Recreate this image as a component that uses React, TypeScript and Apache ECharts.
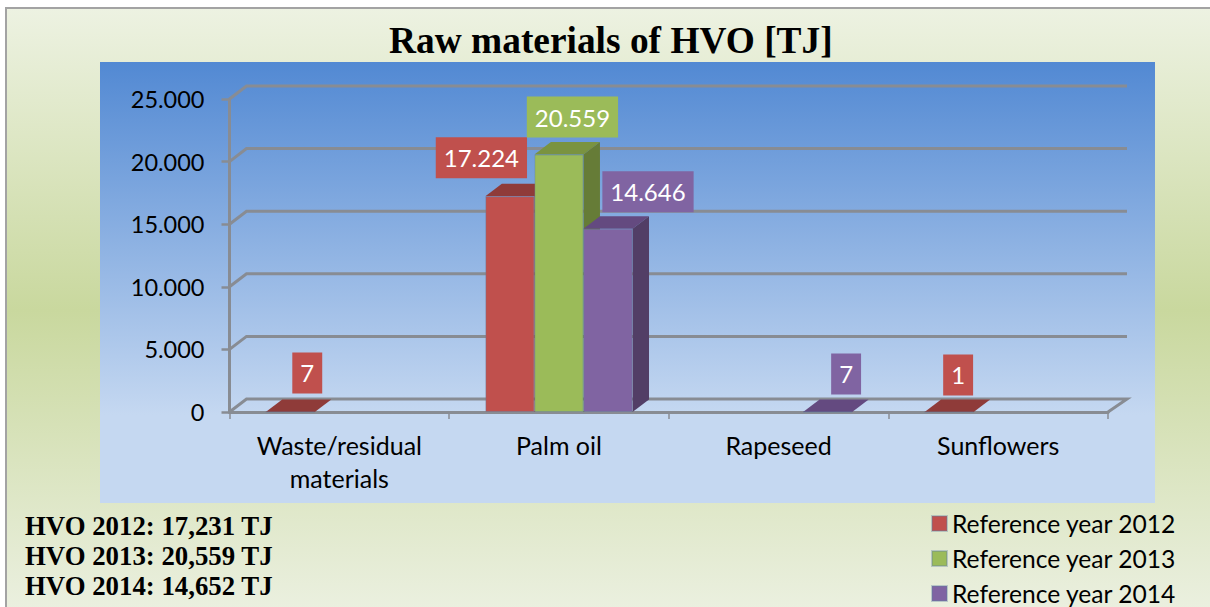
import React, { useEffect, useRef } from "react";
import * as echarts from "echarts";

const categories = ["Waste/residual\nmaterials", "Palm oil", "Rapeseed", "Sunflowers"];
const values2012 = [7, 17224, null, 1];
const values2013 = [null, 20559, null, null];
const values2014 = [null, 14646, 7, null];
const seriesNames = ["Reference year 2012", "Reference year 2013", "Reference year 2014"];
const yTicks = [0, 5000, 10000, 15000, 20000, 25000];
const totals = ["HVO 2012: 17,231 TJ", "HVO 2013: 20,559 TJ", "HVO 2014: 14,652 TJ"];
const chartTitle = "Raw materials of HVO [TJ]";

const frontColors = ["#c0504d", "#9bbb59", "#8064a2"];
const topColors = ["#8f3b39", "#7a9340", "#644a80"];
const sideColors = ["#8f3b39", "#667c37", "#523e66"];
const labelNudges = [
  [[17, -18], [-28.5, -18], [0, 0], [9, -16]],
  [[0, 0], [13.5, -17], [0, 0], [0, 0]],
  [[0, 0], [40, -16.5], [18.5, -17], [0, 0]],
];

const DX = 16.5;
const DY = 12.5;
const GREY = "#888c93";
const CATEGORY_FILL = 0.67;
const LABEL_FONT = "Lato, 'Noto Sans', sans-serif";

const formatTick = (v: number) =>
  v === 0 ? "0" : String(v).replace(/(\d)(\d{3})$/, "$1.$2");

function buildOption() {
  const all = [values2012, values2013, values2014];

  const bars = all.map((vals, s) => ({
    type: "bar",
    name: seriesNames[s],
    z: 4 + s * 2,
    barGap: 0,
    barCategoryGap: "33%",
    itemStyle: {
      color: frontColors[s],
      borderColor: "rgba(95,125,160,0.35)",
      borderWidth: 1,
    },
    label: {
      show: true,
      position: "top",
      distance: 0,
      color: "#ffffff",
      fontFamily: LABEL_FONT,
      fontSize: 24,
      lineHeight: 29,
      backgroundColor: frontColors[s],
      padding: [6, 8, 6, 8],
      formatter: (p: any) => formatTick(p.value),
    },
    data: vals.map((v, i) => ({
      value: v,
      label: { offset: labelNudges[s][i] },
    })),
  }));

  const depth = all.map((vals, s) => ({
    type: "custom",
    name: seriesNames[s] + " depth",
    z: 3 + s * 2,
    silent: true,
    encode: { x: 0, y: 1 },
    data: vals.map((v, i) => [i, v]).filter((d) => d[1] !== null),
    renderItem: (_: any, api: any) => {
      const cat = api.value(0);
      const val = api.value(1);
      const [cx, top] = api.coord([cat, val]);
      const [, base] = api.coord([cat, 0]);
      const w = (api.size([1, 0])[0] * CATEGORY_FILL) / 3;
      const l = cx - 1.5 * w + s * w;
      const r = l + w;
      return {
        type: "group",
        children: [
          {
            type: "polygon",
            shape: { points: [[l, top], [l + DX, top - DY], [r + DX, top - DY], [r, top]] },
            style: { fill: topColors[s] },
          },
          {
            type: "polygon",
            shape: { points: [[r, top], [r + DX, top - DY], [r + DX, base - DY], [r, base]] },
            style: { fill: sideColors[s] },
          },
        ],
      };
    },
  }));

  const walls = {
    type: "custom",
    name: "walls",
    z: 1,
    silent: true,
    encode: { x: 0, y: 1 },
    data: yTicks.map((v) => [0, v]),
    renderItem: (params: any, api: any) => {
      const v = api.value(1);
      const y = api.coord([0, v])[1];
      const left = params.coordSys.x;
      const right = left + params.coordSys.width;
      const points =
        v === 0
          ? [[left, y], [left + 17, y - 13], [right + 19, y - 13], [right, y]]
          : [[left, y], [left + 17, y - 13], [right + 19, y - 13]];
      return {
        type: "polyline",
        shape: { points },
        style: { stroke: GREY, lineWidth: 3, fill: "none" },
      };
    },
  };

  return {
    animation: false,
    backgroundColor: "#ffffff",
    title: {
      text: chartTitle,
      left: 389,
      top: 22,
      padding: 0,
      textStyle: {
        fontFamily: "'Liberation Serif', serif",
        fontWeight: "bold",
        fontSize: 37.4,
        color: "#000000",
      },
    },
    grid: { left: 229.5, right: 102, top: 99, bottom: 195, containLabel: false },
    xAxis: {
      type: "category",
      data: categories,
      boundaryGap: true,
      axisLine: { show: true, lineStyle: { color: GREY, width: 3 } },
      axisTick: { show: true, length: 7, lineStyle: { color: GREY, width: 1.5 } },
      axisLabel: {
        color: "#000000",
        fontFamily: LABEL_FONT,
        fontSize: 25,
        lineHeight: 33,
        margin: 16,
        interval: 0,
      },
    },
    yAxis: {
      type: "value",
      min: 0,
      max: 25000,
      interval: 5000,
      axisLine: { show: true, lineStyle: { color: GREY, width: 3 } },
      axisTick: { show: true, length: 8, lineStyle: { color: GREY, width: 2.5 } },
      splitLine: { show: false },
      axisLabel: {
        color: "#000000",
        fontFamily: LABEL_FONT,
        fontSize: 23.5,
        margin: 25,
        formatter: formatTick,
      },
    },
    legend: {
      data: seriesNames,
      orient: "vertical",
      left: 931,
      top: 509,
      height: 140,
      padding: 0,
      itemWidth: 15,
      itemHeight: 15,
      itemGap: 6,
      icon: "rect",
      selectedMode: false,
      textStyle: {
        color: "#000000",
        fontFamily: LABEL_FONT,
        fontSize: 24.6,
        lineHeight: 29,
      },
    },
    graphic: [
      {
        type: "rect",
        z: -20,
        silent: true,
        shape: { x: 6, y: 8, width: 1210, height: 604 },
        style: {
          stroke: "#a3a3a3",
          lineWidth: 2,
          fill: new echarts.graphic.LinearGradient(0, 0, 0, 1, [
            { offset: 0, color: "#edf2e2" },
            { offset: 0.5, color: "#c9d89e" },
            { offset: 1, color: "#ebf0e0" },
          ]),
        },
      },
      {
        type: "rect",
        z: -19,
        silent: true,
        shape: { x: 100, y: 62, width: 1055, height: 441 },
        style: {
          fill: new echarts.graphic.LinearGradient(0, 0, 0, 1, [
            { offset: 0, color: "#5289d3" },
            { offset: 0.8, color: "#c5d8f1" },
            { offset: 1, color: "#c5d8f1" },
          ]),
        },
      },
      ...totals.map((t, i) => ({
        type: "text",
        z: 5,
        silent: true,
        x: 25,
        y: 512 + i * 30,
        style: {
          text: t,
          fill: "#000000",
          font: "bold 26.8px 'Liberation Serif', serif",
        },
      })),
    ],
    series: [walls, ...depth, ...bars],
  };
}

export default function App() {
  const ref = useRef<HTMLDivElement>(null);
  useEffect(() => {
    const chart = echarts.init(ref.current, undefined, { renderer: "svg" });
    chart.setOption(buildOption() as any);
    return () => chart.dispose();
  }, []);
  return (
    <div
      ref={ref}
      style={{ position: "fixed", left: 0, top: 0, width: 1210, height: 607, overflow: "hidden" }}
    />
  );
}
